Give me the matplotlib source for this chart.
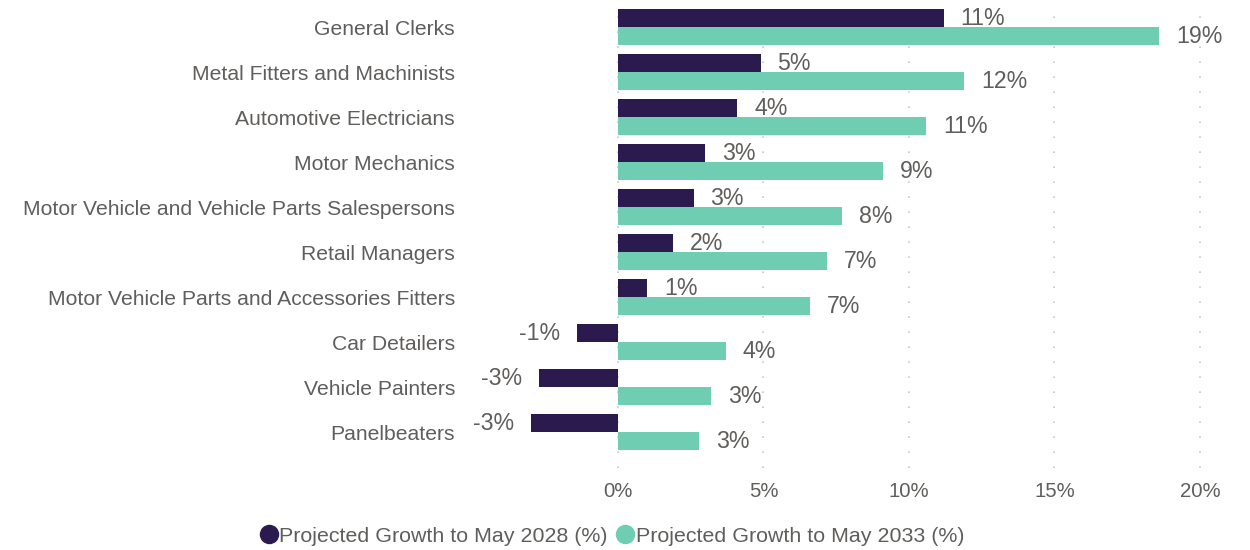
import numpy as np
import matplotlib.pyplot as plt
from matplotlib.lines import Line2D

occupations = ['General Clerks', 'Metal Fitters and Machinists', 'Automotive Electricians',
               'Motor Mechanics', 'Motor Vehicle and Vehicle Parts Salespersons',
               'Retail Managers', 'Motor Vehicle Parts and Accessories Fitters',
               'Car Detailers', 'Vehicle Painters', 'Panelbeaters']
growth_2028 = [11.2, 4.9, 4.1, 3.0, 2.6, 1.9, 1.0, -1.4, -2.7, -3.0]
growth_2033 = [18.6, 11.9, 10.6, 9.1, 7.7, 7.2, 6.6, 3.7, 3.2, 2.8]
series_names = ['Projected Growth to May 2028 (%)', 'Projected Growth to May 2033 (%)']
xticks = [0, 5, 10, 15, 20]

c_dark = '#2b1a4e'
c_teal = '#6fcdb1'
c_text = '#605e5c'

plt.rcParams['font.family'] = ['Liberation Sans', 'DejaVu Sans']

fig = plt.figure(figsize=(12.5, 5.5), dpi=100)
ax = fig.add_axes([0.3896, 0.149, 0.5936, 0.8427])

y = np.arange(len(occupations))
h = 0.4
ax.barh(y - h / 2, growth_2028, height=h, color=c_dark, zorder=3)
ax.barh(y + h / 2, growth_2033, height=h, color=c_teal, zorder=3)

# value labels just past the bar ends
off = 0.58
for i in range(len(occupations)):
    for v, yy in [(growth_2028[i], y[i] - h / 2), (growth_2033[i], y[i] + h / 2)]:
        ha = 'left' if v >= 0 else 'right'
        xx = v + off if v >= 0 else v - off
        ax.text(xx, yy, '%d%%' % round(v), ha=ha, va='center', fontsize=16.7, color=c_text)

ax.set_xlim(-4.5, 21)
ax.set_ylim(9.8, -0.5)
ax.set_yticks(y)
ax.set_yticklabels(occupations, fontsize=15.2, color=c_text)
ax.set_xticks(xticks)
ax.set_xticklabels(['%d%%' % t for t in xticks], fontsize=14.7, color=c_text)
ax.tick_params(axis='both', length=0)
ax.tick_params(axis='y', pad=23)
ax.tick_params(axis='x', pad=10)
for s in ax.spines.values():
    s.set_visible(False)
ax.grid(axis='x', color='#c8c8c8', linestyle=(0, (1, 8)), linewidth=1.2, zorder=0)

handles = [Line2D([], [], marker='o', linestyle='', markersize=13, color=c) for c in (c_dark, c_teal)]
fig.legend(handles, series_names, loc='center', bbox_to_anchor=(611 / 1250, 1 - 536 / 550),
           ncol=2, frameon=False, fontsize=15.4, handletextpad=0.0, columnspacing=0.3,
           labelcolor=c_text, handlelength=1.0)

fig.savefig('out.png')
